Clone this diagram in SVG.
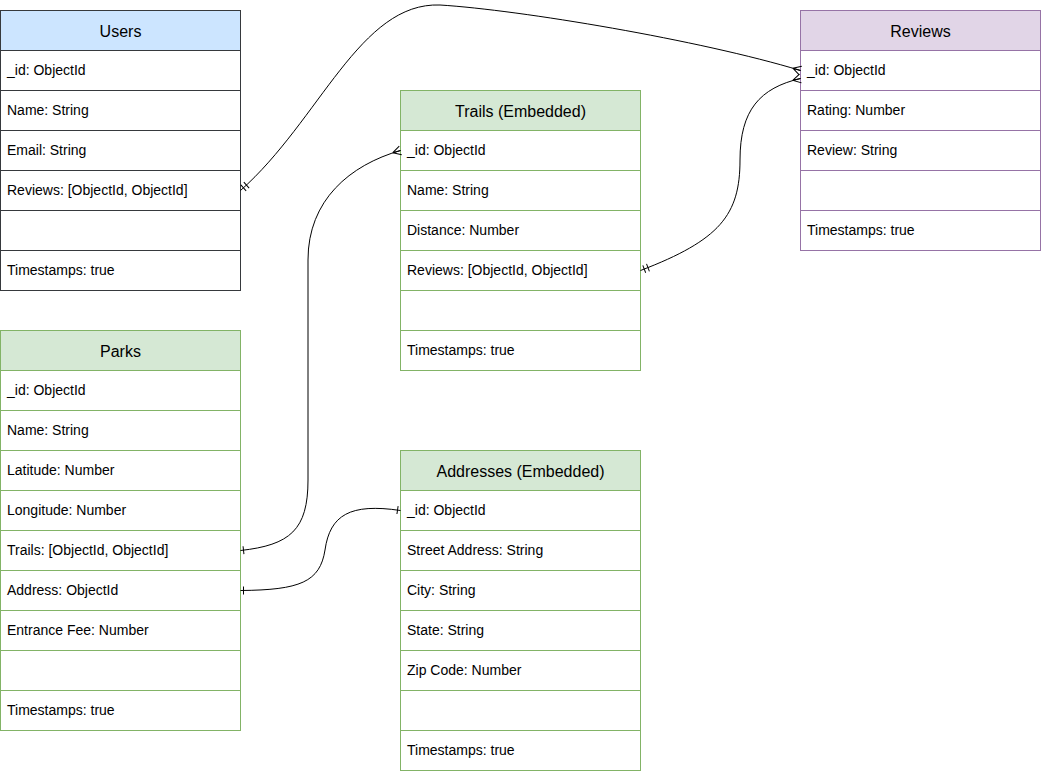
<svg xmlns="http://www.w3.org/2000/svg" width="1041" height="771" viewBox="0 0 1041 771">
  <style>
    .hdr-text { font-family: "Liberation Sans", Arial, sans-serif; font-size: 16px; fill: #000; text-anchor: middle; }
    .row-text { font-family: "Liberation Sans", Arial, sans-serif; font-size: 14px; fill: #000; }
    .row { fill: #ffffff; }
    .blue .hdr { fill: #cce5ff; stroke: #36393d; }
    .blue .row { stroke: #36393d; }
    .green .hdr { fill: #d5e8d4; stroke: #82b366; }
    .green .row { stroke: #82b366; }
    .purple .hdr { fill: #e1d5e7; stroke: #9673a6; }
    .purple .row { stroke: #9673a6; }
    .edge { fill: none; stroke: #000; stroke-width: 1; }
  </style>
  <defs>
    <marker id="many" markerUnits="userSpaceOnUse" markerWidth="20" markerHeight="20" viewBox="-10 -10 20 20" refX="0" refY="0" orient="auto-start-reverse">
      <path d="M-8,0 L0,-4.5 M-8,0 L0,0 M-8,0 L0,4.5" fill="none" stroke="#000" stroke-width="1"/>
    </marker>
    <marker id="mandOne" markerUnits="userSpaceOnUse" markerWidth="20" markerHeight="20" viewBox="-10 -10 20 20" refX="0" refY="0" orient="auto-start-reverse">
      <path d="M-4,-4 L-4,4 M-8,-4 L-8,4" fill="none" stroke="#000" stroke-width="1"/>
    </marker>
    <marker id="one" markerUnits="userSpaceOnUse" markerWidth="20" markerHeight="20" viewBox="-10 -10 20 20" refX="0" refY="0" orient="auto-start-reverse">
      <path d="M-3,-4 L-3,4" fill="none" stroke="#000" stroke-width="1"/>
    </marker>
  </defs>

  <rect x="0" y="0" width="1041" height="771" fill="#ffffff"/>

  <!-- Users -->
  <g id="users" class="blue">
    <rect class="hdr" x="0.5" y="10.5" width="240" height="40"/>
    <text class="hdr-text" x="120.5" y="37">Users</text>
    <rect class="row" x="0.5" y="50.5" width="240" height="40"/>
    <text class="row-text" x="7" y="75">_id: ObjectId</text>
    <rect class="row" x="0.5" y="90.5" width="240" height="40"/>
    <text class="row-text" x="7" y="115">Name: String</text>
    <rect class="row" x="0.5" y="130.5" width="240" height="40"/>
    <text class="row-text" x="7" y="155">Email: String</text>
    <rect class="row" x="0.5" y="170.5" width="240" height="40"/>
    <text class="row-text" x="7" y="195">Reviews: [ObjectId, ObjectId]</text>
    <rect class="row" x="0.5" y="210.5" width="240" height="40"/>
    <rect class="row" x="0.5" y="250.5" width="240" height="40"/>
    <text class="row-text" x="7" y="275">Timestamps: true</text>
  </g>

  <!-- Reviews -->
  <g id="reviews" class="purple">
    <rect class="hdr" x="800.5" y="10.5" width="240" height="40"/>
    <text class="hdr-text" x="920.5" y="37">Reviews</text>
    <rect class="row" x="800.5" y="50.5" width="240" height="40"/>
    <text class="row-text" x="807" y="75">_id: ObjectId</text>
    <rect class="row" x="800.5" y="90.5" width="240" height="40"/>
    <text class="row-text" x="807" y="115">Rating: Number</text>
    <rect class="row" x="800.5" y="130.5" width="240" height="40"/>
    <text class="row-text" x="807" y="155">Review: String</text>
    <rect class="row" x="800.5" y="170.5" width="240" height="40"/>
    <rect class="row" x="800.5" y="210.5" width="240" height="40"/>
    <text class="row-text" x="807" y="235">Timestamps: true</text>
  </g>

  <!-- Trails (Embedded) -->
  <g id="trails" class="green">
    <rect class="hdr" x="400.5" y="90.5" width="240" height="40"/>
    <text class="hdr-text" x="520.5" y="117">Trails (Embedded)</text>
    <rect class="row" x="400.5" y="130.5" width="240" height="40"/>
    <text class="row-text" x="407" y="155">_id: ObjectId</text>
    <rect class="row" x="400.5" y="170.5" width="240" height="40"/>
    <text class="row-text" x="407" y="195">Name: String</text>
    <rect class="row" x="400.5" y="210.5" width="240" height="40"/>
    <text class="row-text" x="407" y="235">Distance: Number</text>
    <rect class="row" x="400.5" y="250.5" width="240" height="40"/>
    <text class="row-text" x="407" y="275">Reviews: [ObjectId, ObjectId]</text>
    <rect class="row" x="400.5" y="290.5" width="240" height="40"/>
    <rect class="row" x="400.5" y="330.5" width="240" height="40"/>
    <text class="row-text" x="407" y="355">Timestamps: true</text>
  </g>

  <!-- Parks -->
  <g id="parks" class="green">
    <rect class="hdr" x="0.5" y="330.5" width="240" height="40"/>
    <text class="hdr-text" x="120.5" y="357">Parks</text>
    <rect class="row" x="0.5" y="370.5" width="240" height="40"/>
    <text class="row-text" x="7" y="395">_id: ObjectId</text>
    <rect class="row" x="0.5" y="410.5" width="240" height="40"/>
    <text class="row-text" x="7" y="435">Name: String</text>
    <rect class="row" x="0.5" y="450.5" width="240" height="40"/>
    <text class="row-text" x="7" y="475">Latitude: Number</text>
    <rect class="row" x="0.5" y="490.5" width="240" height="40"/>
    <text class="row-text" x="7" y="515">Longitude: Number</text>
    <rect class="row" x="0.5" y="530.5" width="240" height="40"/>
    <text class="row-text" x="7" y="555">Trails: [ObjectId, ObjectId]</text>
    <rect class="row" x="0.5" y="570.5" width="240" height="40"/>
    <text class="row-text" x="7" y="595">Address: ObjectId</text>
    <rect class="row" x="0.5" y="610.5" width="240" height="40"/>
    <text class="row-text" x="7" y="635">Entrance Fee: Number</text>
    <rect class="row" x="0.5" y="650.5" width="240" height="40"/>
    <rect class="row" x="0.5" y="690.5" width="240" height="40"/>
    <text class="row-text" x="7" y="715">Timestamps: true</text>
  </g>

  <!-- Addresses (Embedded) -->
  <g id="addresses" class="green">
    <rect class="hdr" x="400.5" y="450.5" width="240" height="40"/>
    <text class="hdr-text" x="520.5" y="477">Addresses (Embedded)</text>
    <rect class="row" x="400.5" y="490.5" width="240" height="40"/>
    <text class="row-text" x="407" y="515">_id: ObjectId</text>
    <rect class="row" x="400.5" y="530.5" width="240" height="40"/>
    <text class="row-text" x="407" y="555">Street Address: String</text>
    <rect class="row" x="400.5" y="570.5" width="240" height="40"/>
    <text class="row-text" x="407" y="595">City: String</text>
    <rect class="row" x="400.5" y="610.5" width="240" height="40"/>
    <text class="row-text" x="407" y="635">State: String</text>
    <rect class="row" x="400.5" y="650.5" width="240" height="40"/>
    <text class="row-text" x="407" y="675">Zip Code: Number</text>
    <rect class="row" x="400.5" y="690.5" width="240" height="40"/>
    <rect class="row" x="400.5" y="730.5" width="240" height="40"/>
    <text class="row-text" x="407" y="755">Timestamps: true</text>
  </g>

  <!-- relationships -->
  <g id="connectors">
    <path class="edge" d="M240.5,190.5 C320,120 360,2 440,5 C520,10 700,40 800.5,70.5" marker-start="url(#mandOne)" marker-end="url(#many)"/>
    <path class="edge" d="M640.5,270.5 C720,240 740,215 740,160 C740,110 760,88 800.5,78.5" marker-start="url(#mandOne)" marker-end="url(#many)"/>
    <path class="edge" d="M240.5,550.5 C290,545 308,530 308,480 L308,260 C308,200 350,165 400.5,150.5" marker-start="url(#one)" marker-end="url(#many)"/>
    <path class="edge" d="M240.5,590.5 C300,590 320,582 325,550 C330,515 350,503 400.5,510.5" marker-start="url(#one)" marker-end="url(#one)"/>
  </g>
</svg>
